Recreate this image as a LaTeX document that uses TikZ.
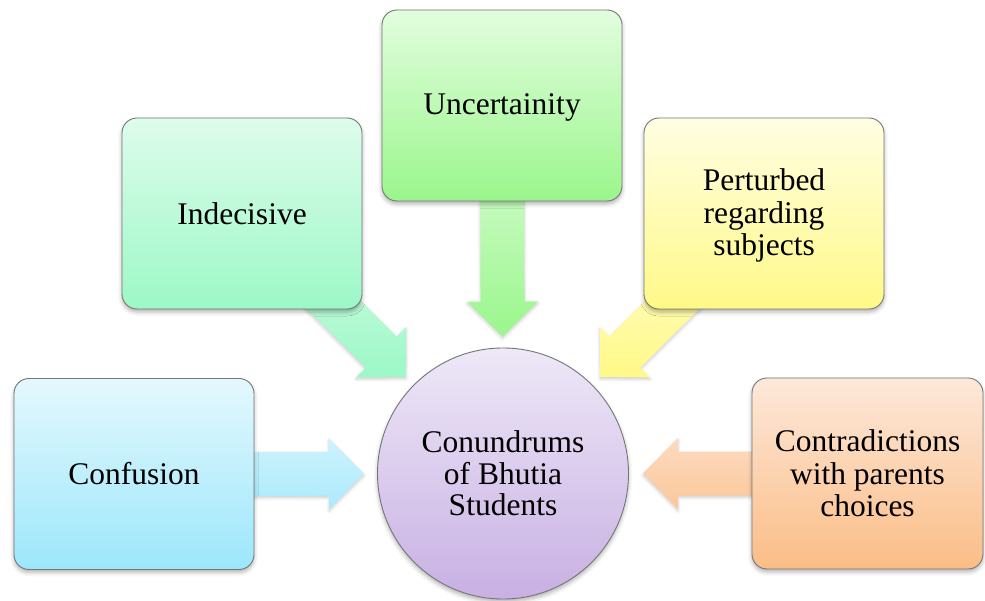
\documentclass[tikz,border=0pt]{standalone}
\usepackage{fontspec}
\setmainfont{Liberation Serif}
\usetikzlibrary{calc,shadows.blur}

\definecolor{edge}{HTML}{767676}
\definecolor{confA}{HTML}{E4F8FD}\definecolor{confB}{HTML}{9CE7FB}
\definecolor{indA}{HTML}{DEFCEC}\definecolor{indB}{HTML}{9CF8C6}
\definecolor{uncA}{HTML}{E2FDDE}\definecolor{uncB}{HTML}{9AF68C}
\definecolor{perA}{HTML}{FFFEE2}\definecolor{perB}{HTML}{FFF987}
\definecolor{conA}{HTML}{FDE8DA}\definecolor{conB}{HTML}{FBBD86}
\definecolor{cirA}{HTML}{EEE8F7}\definecolor{cirB}{HTML}{C8B0E3}

\tikzset{
  softshadow/.style={blur shadow={shadow xshift=0pt, shadow yshift=-3pt,
      shadow blur radius=4pt, shadow opacity=30}},
  box/.style={rounded corners=15pt, draw=edge, line width=0.9pt,
      minimum width=240pt, minimum height=191pt, inner sep=0pt, softshadow},
  boxtext/.style={align=center, inner sep=0pt,
      font=\fontsize{31.5}{32.5}\selectfont},
  hubtext/.style={align=center, inner sep=0pt,
      font=\fontsize{31.5}{31.5}\selectfont},
  hub/.style={circle, draw=edge, line width=0.9pt, minimum size=251pt,
      inner sep=0pt, top color=cirA, bottom color=cirB, softshadow},
  arrowfill/.style={blur shadow={shadow xshift=0pt, shadow yshift=-2pt,
      shadow blur radius=3pt, shadow opacity=20}},
}

% block arrow from #1 (tail) to #2 (tip), shaft 44pt, head 71pt x 35pt
\newcommand\blockarrow[3]{%
  \coordinate (ah) at ($(#2)!35pt!(#1)$);
  \shade[arrowfill,#3] (#2) -- ($(ah)!35.5pt!90:(#1)$) -- ($(ah)!22pt!90:(#1)$)
    -- ($(#1)!22pt!-90:(ah)$) -- ($(#1)!22pt!90:(ah)$)
    -- ($(ah)!22pt!-90:(#1)$) -- ($(ah)!35.5pt!-90:(#1)$) -- cycle;
}

\begin{document}
\begin{tikzpicture}[x=1pt,y=-1pt]
\useasboundingbox (0,0) rectangle (985,601);

% centres of the hub and of the surrounding boxes
\path (503,473.5) coordinate (circpos);
\path (134,474) coordinate (confpos);
\path (242,213.5) coordinate (indpos);
\path (502,105.5) coordinate (uncpos);
\path (764,213.5) coordinate (perpos);
\path (867.5,473.5) coordinate (conpos);

% arrow tips, just outside the circle
\coordinate (tconf) at ($(circpos)!139pt!(confpos)$);
\coordinate (tind)  at ($(circpos)!137pt!(indpos)$);
\coordinate (tunc)  at ($(circpos)!137pt!(uncpos)$);
\coordinate (tper)  at ($(circpos)!137pt!(perpos)$);
\coordinate (tcon)  at ($(circpos)!140pt!(conpos)$);

% block arrows (drawn first, boxes cover their tails)
\blockarrow{confpos}{tconf}{top color=confA!70!confB, bottom color=confB!85!white}
\blockarrow{indpos}{tind}{top color=indA, bottom color=indB}
\blockarrow{uncpos}{tunc}{top color=uncA, bottom color=uncB}
\blockarrow{perpos}{tper}{top color=perA, bottom color=perB}
\blockarrow{conpos}{tcon}{top color=conA!70!conB, bottom color=conB!85!white}

% boxes
\node[box, top color=confA, bottom color=confB,
  label={[boxtext]center:Confusion}] (conf) at (confpos) {};
\node[box, top color=indA, bottom color=indB,
  label={[boxtext]center:Indecisive}] (ind) at (indpos) {};
\node[box, top color=uncA, bottom color=uncB,
  label={[boxtext, yshift=-2pt]center:Uncertainity}] (unc) at (uncpos) {};
\node[box, top color=perA, bottom color=perB,
  label={[boxtext, yshift=-2pt]center:{Perturbed\\regarding\\subjects}}] (per) at (perpos) {};
\node[box, minimum width=231pt, top color=conA, bottom color=conB,
  label={[boxtext]center:{Contradictions\\with parents\\choices}}] (con) at (conpos) {};

% hub
\node[hub, label={[hubtext]center:{Conundrums\\of Bhutia\\Students}}] (circ) at (circpos) {};
\end{tikzpicture}
\end{document}
